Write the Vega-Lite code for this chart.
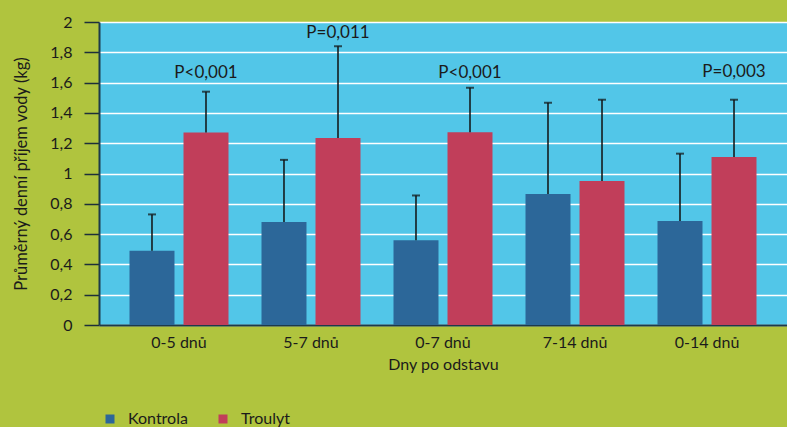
{
  "$schema": "https://vega.github.io/schema/vega-lite/v6.json",
  "width": 688,
  "height": 303,
  "autosize": {"type": "none"},
  "padding": {"left": 99, "top": 22, "right": 0, "bottom": 102},
  "background": "#b0c43e",
  "config": {
    "view": {"fill": "#52c6e8", "stroke": null},
    "font": "Lato",
    "axisY": {
      "titleFontSize": 16.5, "titleFontWeight": "normal", "titleColor": "#1b1b1b", "titlePadding": 20,
      "labelOverlap": false, "labelFlush": false,
      "labelFontSize": 16, "labelColor": "#1b1b1b", "labelPadding": 12,
      "tickSize": 15, "tickColor": "#1d2f3a", "tickWidth": 1.5,
      "domainColor": "#1d3a4a", "domainWidth": 2,
      "grid": true, "gridColor": "#ffffff", "gridWidth": 1.5, "gridOpacity": 1
    },
    "axisX": {
      "titleFontSize": 16, "titleFontWeight": "normal", "titleColor": "#1b1b1b", "titlePadding": 6,
      "labelFontSize": 16, "labelColor": "#1b1b1b", "labelAngle": 0, "labelPadding": 9,
      "ticks": false, "domainColor": "#1d3a4a", "domainWidth": 2, "grid": false
    },
    "legend": {
      "orient": "none",
      "legendX": 3,
      "legendY": 389,
      "direction": "horizontal",
      "symbolType": "square",
      "symbolSize": 81,
      "symbolStrokeWidth": 0,
      "labelFontSize": 16,
      "labelColor": "#1b1b1b",
      "labelOffset": 10,
      "columnPadding": 27
    }
  },
  "datasets": {
    "bars": [
      {"skupina": "0-5 dnů", "serie": "Kontrola", "prumer": 0.49, "horni": 0.73},
      {"skupina": "0-5 dnů", "serie": "Troulyt", "prumer": 1.27, "horni": 1.54},
      {"skupina": "5-7 dnů", "serie": "Kontrola", "prumer": 0.68, "horni": 1.09},
      {"skupina": "5-7 dnů", "serie": "Troulyt", "prumer": 1.235, "horni": 1.84},
      {"skupina": "0-7 dnů", "serie": "Kontrola", "prumer": 0.56, "horni": 0.855},
      {"skupina": "0-7 dnů", "serie": "Troulyt", "prumer": 1.273, "horni": 1.566},
      {"skupina": "7-14 dnů", "serie": "Kontrola", "prumer": 0.865, "horni": 1.467},
      {"skupina": "7-14 dnů", "serie": "Troulyt", "prumer": 0.95, "horni": 1.487},
      {"skupina": "0-14 dnů", "serie": "Kontrola", "prumer": 0.686, "horni": 1.131},
      {"skupina": "0-14 dnů", "serie": "Troulyt", "prumer": 1.109, "horni": 1.487}
    ],
    "notes": [
      {"skupina": "0-5 dnů", "serie": "Troulyt", "py": 1.665, "txt": "P<0,001"},
      {"skupina": "5-7 dnů", "serie": "Troulyt", "py": 1.93, "txt": "P=0,011"},
      {"skupina": "0-7 dnů", "serie": "Troulyt", "py": 1.665, "txt": "P<0,001"},
      {"skupina": "0-14 dnů", "serie": "Troulyt", "py": 1.672, "txt": "P=0,003"}
    ]
  },
  "layer": [
    {
      "data": {"name": "bars"},
      "mark": {"type": "bar"},
      "encoding": {
        "x": {
          "field": "skupina", "type": "nominal",
          "sort": ["0-5 dnů", "5-7 dnů", "0-7 dnů", "7-14 dnů", "0-14 dnů"],
          "scale": {"paddingInner": 0.25, "paddingOuter": 0.231},
          "axis": {"title": "Dny po odstavu"}
        },
        "xOffset": {"field": "serie", "type": "nominal", "scale": {"paddingInner": 0.167}},
        "y": {
          "field": "prumer", "type": "quantitative",
          "scale": {"domain": [0, 2], "nice": false},
          "axis": {
            "title": "Průměrný denní příjem vody (kg)",
            "values": [0, 0.2, 0.4, 0.6, 0.8, 1, 1.2, 1.4, 1.6, 1.8, 2],
            "tickCount": 20,
            "labelExpr": "replace(format(datum.value, '.1~f'), '.', ',')"
          }
        },
        "color": {
          "field": "serie", "type": "nominal",
          "scale": {"domain": ["Kontrola", "Troulyt"], "range": ["#2c6799", "#c13e5a"]},
          "legend": {"title": null}
        }
      }
    },
    {
      "data": {"name": "bars"},
      "mark": {"type": "rule", "color": "#111111", "strokeWidth": 1.5},
      "encoding": {
        "x": {"field": "skupina", "type": "nominal", "sort": ["0-5 dnů", "5-7 dnů", "0-7 dnů", "7-14 dnů", "0-14 dnů"]},
        "xOffset": {"field": "serie", "type": "nominal"},
        "y": {"field": "prumer", "type": "quantitative"},
        "y2": {"field": "horni"}
      }
    },
    {
      "data": {"name": "bars"},
      "mark": {"type": "tick", "color": "#111111", "size": 8, "thickness": 2, "orient": "horizontal"},
      "encoding": {
        "x": {"field": "skupina", "type": "nominal", "sort": ["0-5 dnů", "5-7 dnů", "0-7 dnů", "7-14 dnů", "0-14 dnů"]},
        "xOffset": {"field": "serie", "type": "nominal"},
        "y": {"field": "horni", "type": "quantitative"}
      }
    },
    {
      "data": {"name": "notes"},
      "mark": {"type": "text", "fontSize": 17, "color": "#1b1b1b", "baseline": "middle", "align": "center"},
      "encoding": {
        "x": {"field": "skupina", "type": "nominal", "sort": ["0-5 dnů", "5-7 dnů", "0-7 dnů", "7-14 dnů", "0-14 dnů"]},
        "xOffset": {"field": "serie", "type": "nominal"},
        "y": {"field": "py", "type": "quantitative"},
        "text": {"field": "txt"}
      }
    }
  ]
}
